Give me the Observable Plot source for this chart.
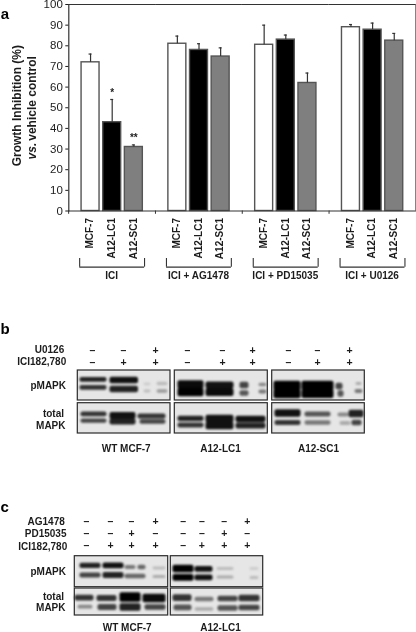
<!DOCTYPE html>
<html><head><meta charset="utf-8">
<script src="https://cdn.jsdelivr.net/npm/d3@7"></script>
<script src="https://cdn.jsdelivr.net/npm/@observablehq/plot@0.6"></script>
<style>
html,body{margin:0;padding:0;background:#fff;width:416px;height:632px;overflow:hidden}
svg{display:block;filter:blur(.3px)}
.band{filter:blur(1.2px)}
</style></head><body><div id="a"></div><div id="b"></div><div id="c"></div>
<script>
const font = "Liberation Sans, Arial, sans-serif";
const ink = "#1c1c1c";
const labelSize = 10;

// ---- panel a: values
const treatments = ["ICI","ICI + AG1478","ICI + PD15035","ICI + U0126"];
const lines = ["MCF-7","A12-LC1","A12-SC1"];
const lineFill = {"MCF-7":"#ffffff","A12-LC1":"#000000","A12-SC1":"#7f7f7f"};
const meanICI = [72,43,31];
const topICI = [76,54,32];
const meanAG = [81,78,74.8];
const topAG = [84.7,81,79];
const meanPD = [80.5,83,62];
const topPD = [90,85.2,66.8];
const meanU = [89,87.8,82.5];
const topU = [90.3,91,86];
const means = [meanICI,meanAG,meanPD,meanU];
const tops = [topICI,topAG,topPD,topU];
const yTicks = d3.range(0,101,10);
const stars = [{t:"ICI",l:"A12-LC1",v:54,s:"*"},{t:"ICI",l:"A12-SC1",v:32,s:"**"}];

const rows = treatments.flatMap((t,i)=>lines.map((l,j)=>({t,l,v:means[i][j],top:tops[i][j]})));
const first = ()=>treatments[0];

const a = Plot.plot({
  width:416,height:315,marginLeft:68.3,marginRight:0.5,marginTop:4,marginBottom:104.5,
  style:{fontFamily:font,color:ink,background:"#fff"},
  fx:{domain:treatments,padding:0,axis:null,label:null,round:false},
  x:{domain:lines,paddingInner:0.17,paddingOuter:0.59,axis:null,label:null,round:false},
  y:{domain:[0,100],axis:null,label:null},
  marks:[
    Plot.barY(rows,{fx:"t",x:"l",y:"v",fill:d=>lineFill[d.l],stroke:"#555",strokeWidth:1.4}),
    Plot.ruleX(rows,{fx:"t",x:"l",y1:"v",y2:"top",stroke:"#333",strokeWidth:1.2}),
    Plot.tickY(rows,{fx:"t",x:"l",y:"top",stroke:"#333",strokeWidth:1.2,insetLeft:7.5,insetRight:7.5}),
    Plot.text(stars,{fx:"t",x:"l",y:"v",text:"s",dy:-7,fontSize:10,fill:ink,fontWeight:"bold"}),
    Plot.ruleY(treatments,{fx:d=>d,y:()=>0,stroke:"#333",strokeWidth:1.2}),
    Plot.ruleY(treatments,{fx:d=>d,y:()=>100,stroke:"#333",strokeWidth:1.2}),
    Plot.ruleX(treatments,{fx:d=>d,x:()=>"MCF-7",y1:0,y2:-1.6,dx:-21.9,stroke:"#333",strokeWidth:1}),
    Plot.frame({anchor:"left",stroke:"#333",strokeWidth:1.2,facet:"super"}),
    Plot.frame({anchor:"right",stroke:"#333",strokeWidth:1.2,facet:"super"}),
    Plot.axisY({ticks:yTicks,tickSize:3,tickPadding:3,fontSize:11.5,label:null,tickFormat:d=>d}),
    // rotated cell-line labels
    Plot.text(rows,{fx:"t",x:"l",y:()=>0,text:"l",rotate:-90,textAnchor:"end",dy:7,dx:-0.5,fontSize:labelSize,fontWeight:"bold",fill:ink}),
    // group brackets
    Plot.ruleY(treatments,{fx:d=>d,y:()=>-27.2,insetLeft:11,insetRight:11,stroke:"#333",strokeWidth:1.1}),
    Plot.ruleX(treatments,{fx:d=>d,x:()=>lines[0],y1:-27.2,y2:-23,dx:-10.9,stroke:"#333",strokeWidth:1.1}),
    Plot.ruleX(treatments,{fx:d=>d,x:()=>lines[2],y1:-27.2,y2:-23,dx:10.7,stroke:"#333",strokeWidth:1.1}),
    Plot.text(treatments,{fx:d=>d,x:()=>lines[1],y:()=>-31.5,text:d=>d,fontSize:labelSize,fontWeight:"bold",fill:ink,dy:0,dx:-0.5}),
    // y title
    Plot.text(["Growth Inhibition (%)"],{fx:first,frameAnchor:"left",y:()=>51,dx:-52,text:d=>d,rotate:-90,textAnchor:"middle",fontSize:12,fontWeight:"bold",fill:ink}),
    Plot.text(["vs."],{fx:first,frameAnchor:"left",y:()=>25,dx:-37,text:d=>d,rotate:-90,textAnchor:"start",fontSize:12,fontWeight:"bold",fontStyle:"italic",fill:ink}),
    Plot.text(["vehicle control"],{fx:first,frameAnchor:"left",y:()=>34,dx:-37,text:d=>d,rotate:-90,textAnchor:"start",fontSize:12,fontWeight:"bold",fill:ink}),
    Plot.text(["a"],{frameAnchor:"top-left",dx:-68,dy:3.5,text:d=>d,textAnchor:"start",fontSize:15,fontWeight:"bold",fill:"#000",facet:"super"})
  ]
});
document.getElementById("a").append(a);

// ---- blots: gel coordinates
const bandGrow = 1.3;
const blot = ([x1,x2,y,h,c]) => ({x1:x1-0.5,x2:x2+0.5,y1:y-(h+bandGrow)/2,y2:y+(h+bandGrow)/2,c});

const panelsB = [[77.3,170,55,85],[174.3,267.3,55,85],[271.7,364.3,55,85],[77.3,170,87.7,118],[174.3,267.3,87.7,118],[271.7,364.3,87.7,118]];
const bandsB = [
 [80,106,64.3,3.5,"#222"],[110,137.5,65,5,"#111"],[80,106,72.3,3.5,"#333"],[110,137.5,74,5,"#222"],
 [144,150,69,1.5,"#ccc"],[157,167,68.5,2,"#bbb"],[144,150,76,1.5,"#bbb"],[157,167,76,2.2,"#999"],
 [178,203,69.3,7,"#0a0a0a"],[206,233,69.8,5.5,"#111"],[178,203,77,7,"#000"],[206,233,77,6.5,"#0a0a0a"],
 [240,248,70,5,"#444"],[240,248,78,4,"#555"],[259,266,69.5,2,"#888"],[259,266,76.5,2.5,"#777"],
 [274,300,70.5,8,"#000"],[302,333,70.5,8,"#000"],[274,300,78.5,8,"#000"],[302,333,78.5,7.5,"#000"],
 [336,342,71,5,"#444"],[338,343,78.5,5,"#555"],[356,361,68.5,1.5,"#aaa"],[355,362,76,2.5,"#777"],
 [81,106,98.8,3.5,"#333"],[110,135,100.5,5.5,"#111"],[138,165,101,3.5,"#333"],[81,106,105.7,3,"#444"],[110,135,106.5,4.5,"#222"],[140,165,106.5,3,"#444"],
 [178,203,103.3,4,"#222"],[206,233,103.5,6,"#111"],[236,265,103.8,5,"#111"],[178,203,110,3.5,"#333"],[206,233,110.5,6,"#111"],[236,265,110.5,4.5,"#222"],
 [275,300,98,6,"#111"],[305,330,99,3.5,"#555"],[338,348,99.5,2.5,"#888"],[349,363,98.5,6,"#222"],[275,300,107.5,3.5,"#333"],[305,330,107.5,3,"#777"],[340,350,108,2.5,"#aaa"],[352,361,107.5,4,"#444"]
];
const signRowsB = [["U0126",34.7,["–","–","+","–","–","+","–","–","+"]],["ICI182,780",46.7,["–","+","+","–","+","+","–","+","+"]]];
const laneXB = [92,123,155,187,222,252,288,317,349];
const labelsLeftB = [["U0126",63.7,34.7],["ICI182,780",65.7,46.7],["pMAPK",65.5,70.5],["total",63.5,98],["MAPK",65,110]];
const cellLabelsB = [["WT MCF-7",125.7,133],["A12-LC1",220,133.5],["A12-SC1",318,133]];

const panelsC = [[74.3,167.7,80.7,111.7],[170.3,262.7,80.7,111.7],[74.3,167.7,113,140],[170.3,262.7,113,140]];
const bandsC = [
 [80,100,90.3,4,"#222"],[103,123,90.3,4.5,"#111"],[125,135,92,2.5,"#777"],[138,145,92,3,"#666"],[153,165,93,1.5,"#bbb"],
 [80,100,100,3.5,"#444"],[103,123,100,4.5,"#222"],[125,145,101,3,"#666"],[153,165,101.5,1.8,"#aaa"],
 [173,193,93.5,6,"#000"],[195,212,93.8,4.5,"#111"],[217,233,93.5,1.5,"#bbb"],[250,258,93.5,1.5,"#ccc"],
 [173,193,102.3,5.5,"#000"],[195,212,102.3,4.5,"#111"],[217,233,102,1.8,"#aaa"],[250,258,102.5,1.8,"#bbb"],
 [75,93,122.7,4.5,"#333"],[97,116,123,4.5,"#333"],[120,140,122,8,"#000"],[143,165,123,7,"#0a0a0a"],
 [78,92,131.7,2.5,"#888"],[98,116,132,4.5,"#444"],[120,140,132,6,"#222"],[145,165,132,4,"#444"],
 [173,191,122.7,5.5,"#333"],[195,213,124,3,"#777"],[218,237,123.5,4,"#444"],[239,259,123,5,"#333"],
 [174,191,132.3,4.5,"#555"],[195,213,134,2,"#aaa"],[218,237,133,4,"#555"],[239,259,132.5,4,"#444"]
];
const signRowsC = [["AG1478",45.7,["–","–","–","+","–","–","–","+"]],["PD15035",57.7,["–","–","+","–","–","–","+","–"]],["ICI182,780",70,["–","+","+","+","–","+","+","+"]]];
const laneXC = [86,110,131,155,182.7,201.3,223.7,246.7];
const labelsLeftC = [["AG1478",64.3,46.3],["PD15035",66,58.3],["ICI182,780",66.7,71],["pMAPK",65.5,96.5],["total",63.5,121.7],["MAPK",65,132.5]];
const cellLabelsC = [["WT MCF-7",126.7,152],["A12-LC1",220,152]];

function blotPlot(h, letter, letterY, panels, bands, signRows, laneX, leftLabels, cellLabels){
  const signs = signRows.flatMap(([n,y,s])=>s.map((v,i)=>({x:laneX[i],y,v})));
  const common = {fontWeight:"bold",fill:ink,fontSize:labelSize};
  return Plot.plot({
    width:416,height:h,margin:0,
    style:{fontFamily:font,color:ink,background:"#fff"},
    x:{domain:[0,416],range:[0,416],axis:null},
    y:{domain:[0,h],range:[0,h],axis:null},
    marks:[
      Plot.rect(panels,{x1:d=>d[0],x2:d=>d[1],y1:d=>d[2],y2:d=>d[3],fill:"#e6e6e6"}),
      Plot.rect(bands.map(blot),{x1:"x1",x2:"x2",y1:"y1",y2:"y2",fill:"c",rx:2,className:"band"}),
      Plot.rect(panels,{x1:d=>d[0],x2:d=>d[1],y1:d=>d[2],y2:d=>d[3],fill:"none",stroke:"#2a2a2a",strokeWidth:1.2}),
      Plot.text(signs,{x:"x",y:"y",text:"v",fontWeight:"bold",fontSize:10.5,fill:ink}),
      Plot.text(leftLabels,{x:d=>d[1],y:d=>d[2],text:d=>d[0],textAnchor:"end",...common}),
      Plot.text(cellLabels,{x:d=>d[1],y:d=>d[2],text:d=>d[0],...common}),
      Plot.text([letter],{x:()=>0,y:()=>letterY,text:d=>d,textAnchor:"start",fontWeight:"bold",fontSize:15,fill:"#000"})
    ]
  });
}
document.getElementById("b").append(blotPlot(160,"b",14,panelsB,bandsB,signRowsB,laneXB,labelsLeftB,cellLabelsB));
document.getElementById("c").append(blotPlot(157,"c",31.5,panelsC,bandsC,signRowsC,laneXC,labelsLeftC,cellLabelsC));
</script></body></html>
